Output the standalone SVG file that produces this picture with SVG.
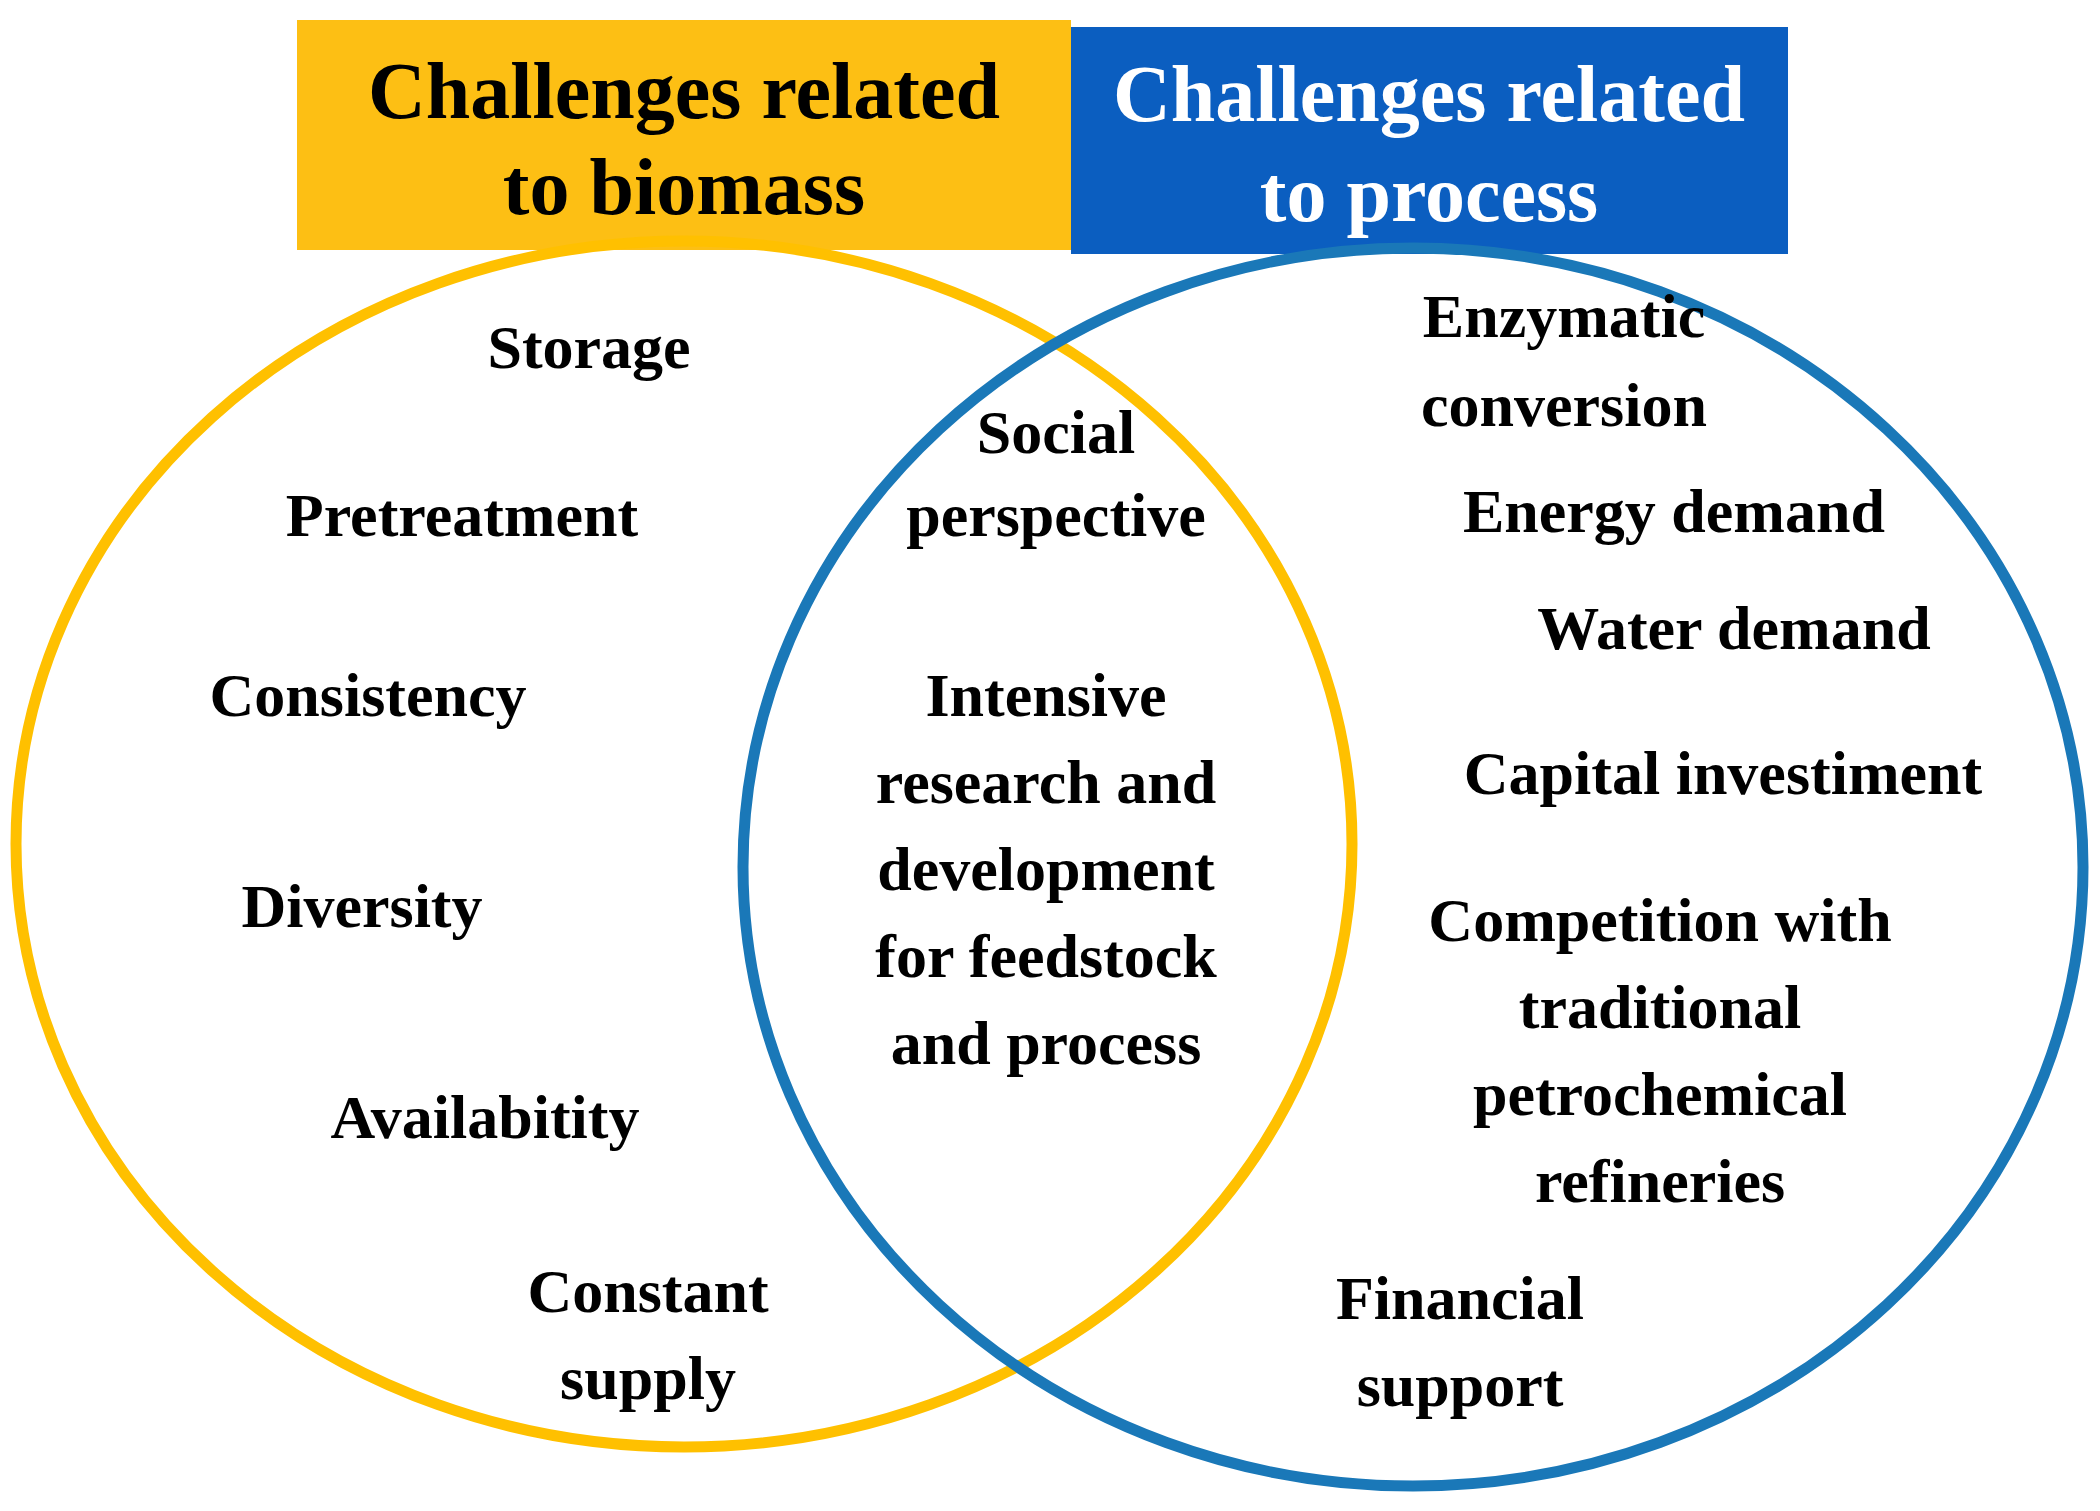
<svg xmlns="http://www.w3.org/2000/svg" width="2100" height="1511" viewBox="0 0 2100 1511">
<style>
text{font-family:"Liberation Serif","Times New Roman",serif;font-weight:bold;text-anchor:middle;fill:#000}
.b{font-size:62px}
.t{font-size:80px}
</style>
<rect width="2100" height="1511" fill="#fff"/>
<g id="box-biomass"><rect x="297" y="20" width="774" height="230" fill="#FDBF14"/>
<text class="t" x="684" y="118">Challenges related</text><text class="t" x="684" y="214">to biomass</text></g>
<g id="box-process"><rect x="1071" y="27" width="717" height="227" fill="#0B5EC0"/>
<text class="t" x="1429" y="121" style="fill:#fff">Challenges related</text><text class="t" x="1429" y="221" style="fill:#fff">to process</text></g>
<g id="circles" fill="none" stroke-width="11">
<ellipse cx="684" cy="844" rx="668" ry="603" stroke="#FFC000"/>
<ellipse cx="1413" cy="867" rx="670" ry="619" stroke="#1A78B8"/>
</g>
<g id="biomass-items" class="b">
<text class="b" x="589" y="368">Storage</text>
<text class="b" x="462" y="536">Pretreatment</text>
<text class="b" x="368" y="716">Consistency</text>
<text class="b" x="362" y="927">Diversity</text>
<text class="b" x="485" y="1138">Availabitity</text>
<text class="b" x="648" y="1312">Constant</text><text class="b" x="648" y="1399">supply</text>
</g>
<g id="shared-items">
<text class="b" x="1056" y="453">Social</text><text class="b" x="1056" y="536">perspective</text>
<text class="b" x="1046" y="716">Intensive</text>
<text class="b" x="1046" y="803">research and</text>
<text class="b" x="1046" y="890">development</text>
<text class="b" x="1046" y="977">for feedstock</text>
<text class="b" x="1046" y="1064">and process</text>
</g>
<g id="process-items">
<text class="b" x="1564" y="337">Enzymatic</text><text class="b" x="1564" y="426">conversion</text>
<text class="b" x="1674" y="532">Energy demand</text>
<text class="b" x="1734" y="649">Water demand</text>
<text class="b" x="1723" y="794">Capital investiment</text>
<text class="b" x="1660" y="941">Competition with</text>
<text class="b" x="1660" y="1028">traditional</text>
<text class="b" x="1660" y="1115">petrochemical</text>
<text class="b" x="1660" y="1202">refineries</text>
<text class="b" x="1460" y="1319">Financial</text><text class="b" x="1460" y="1406">support</text>
</g>
</svg>
